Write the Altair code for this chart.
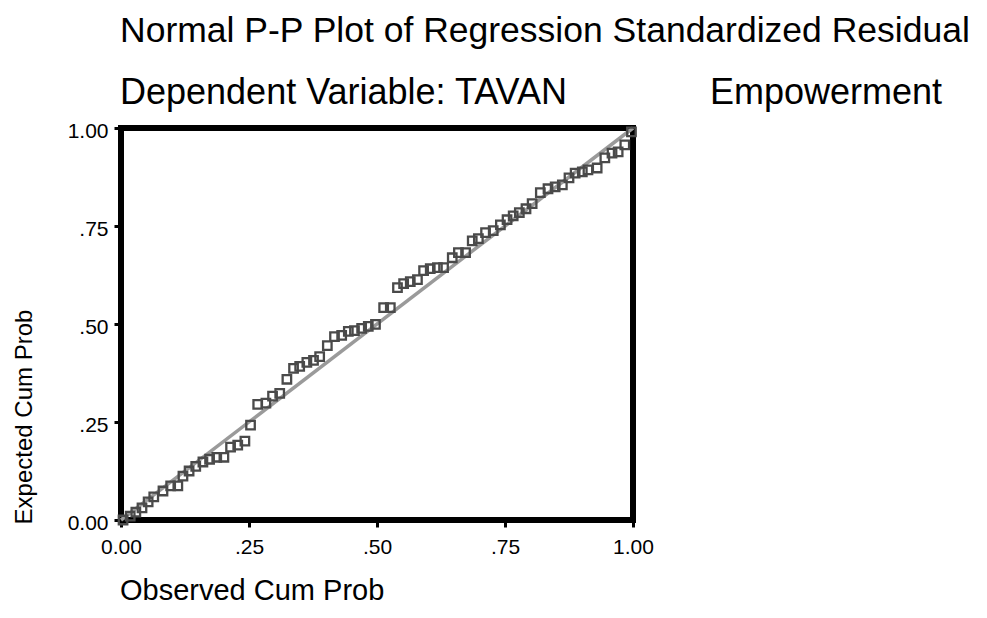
import altair as alt
import pandas as pd

# Observed cumulative probability (x) and expected cumulative probability (y)
observed = [0.004, 0.018, 0.029, 0.041, 0.053, 0.064, 0.082, 0.097, 0.111, 0.121,
            0.133, 0.146, 0.160, 0.173, 0.187, 0.201, 0.214, 0.228, 0.242, 0.253,
            0.267, 0.283, 0.296, 0.310, 0.324, 0.337, 0.349, 0.363, 0.376, 0.388,
            0.403, 0.417, 0.431, 0.444, 0.456, 0.470, 0.483, 0.497, 0.513, 0.526,
            0.540, 0.552, 0.565, 0.579, 0.591, 0.604, 0.618, 0.630, 0.647, 0.659,
            0.673, 0.686, 0.698, 0.712, 0.727, 0.741, 0.754, 0.766, 0.778, 0.791,
            0.803, 0.819, 0.834, 0.848, 0.862, 0.875, 0.887, 0.901, 0.912, 0.930,
            0.945, 0.959, 0.971, 0.984, 0.997]
expected = [0.000, 0.010, 0.020, 0.031, 0.046, 0.059, 0.074, 0.087, 0.087, 0.112,
            0.125, 0.137, 0.148, 0.155, 0.160, 0.160, 0.186, 0.191, 0.201, 0.242,
            0.295, 0.298, 0.316, 0.323, 0.359, 0.387, 0.392, 0.402, 0.407, 0.417,
            0.445, 0.468, 0.471, 0.481, 0.483, 0.489, 0.494, 0.499, 0.542, 0.542,
            0.593, 0.603, 0.608, 0.613, 0.636, 0.641, 0.644, 0.644, 0.669, 0.682,
            0.682, 0.712, 0.718, 0.733, 0.738, 0.753, 0.766, 0.776, 0.784, 0.794,
            0.807, 0.835, 0.845, 0.850, 0.855, 0.873, 0.885, 0.888, 0.893, 0.898,
            0.924, 0.936, 0.939, 0.957, 0.990]

ref_x = [0.0, 1.0]
ref_y = [0.0, 1.0]
tick_values = [0.0, 0.25, 0.5, 0.75, 1.0]

title_text = "Normal P-P Plot of Regression Standardized Residual"
subtitle_text = "Dependent Variable: TAVAN"
extra_text = "Empowerment"
x_title = "Observed Cum Prob"
y_title = "Expected Cum Prob"

FONT = "Liberation Sans"
W, H = 512, 392

pts = pd.DataFrame({"obs": observed, "exp": expected})
ref = pd.DataFrame({"obs": ref_x, "exp": ref_y})

label_expr = ("datum.value == 0 ? '0.00' : datum.value == 1 ? '1.00' : "
              "replace(format(datum.value, '.2f'), '0.', '.')")

xscale = alt.Scale(domain=[0, 1], nice=False, zero=False)
yscale = alt.Scale(domain=[0, 1], nice=False, zero=False)

xaxis = alt.Axis(values=tick_values, labelExpr=label_expr, title=None, grid=False,
                 domain=False, ticks=True, tickSize=7, tickWidth=3, tickColor="black",
                 labelFont=FONT, labelFontSize=21, labelColor="black", labelPadding=9,
                 labelFlush=False)
yaxis = alt.Axis(values=tick_values, labelExpr=label_expr, title=None, grid=False,
                 domain=False, ticks=True, tickSize=7, tickWidth=3, tickColor="black",
                 labelFont=FONT, labelFontSize=21, labelColor="black", labelPadding=6,
                 labelBaseline="middle", labelOffset=3, labelFlush=False)

line = alt.Chart(ref).mark_line(color="#9a9a9a", strokeWidth=3.5).encode(
    x=alt.X("obs:Q", scale=xscale, axis=xaxis),
    y=alt.Y("exp:Q", scale=yscale, axis=yaxis),
)

points = alt.Chart(pts).mark_point(shape="square", filled=False, color="#4a4a4a",
                                   strokeWidth=2.3, size=72, opacity=1).encode(
    x=alt.X("obs:Q", scale=xscale),
    y=alt.Y("exp:Q", scale=yscale),
)

one = pd.DataFrame({"a": [0]})


def label(text, x, y, size, angle=0, align="left", baseline="alphabetic"):
    kw = dict(text=text, font=FONT, fontSize=size, color="black", align=align,
              baseline=baseline)
    if angle:
        kw["angle"] = angle
    return alt.Chart(one).mark_text(**kw).encode(x=alt.value(x), y=alt.value(y))


texts = [
    label(title_text, -1, -86, 35.5),
    label(subtitle_text, -1, -24, 36),
    label(extra_text, 589, -24, 36),
    label(x_title, -1, 472, 29),
    label(y_title, -96, 289, 24, angle=270, align="center", baseline="middle"),
]

chart = alt.layer(line, points, *texts).properties(
    width=W, height=H,
    background="white",
    padding={"left": 113, "top": 120, "right": 346, "bottom": 90},
    autosize=alt.AutoSizeParams(type="none"),
).configure_view(stroke="black", strokeWidth=6)

chart.save("out.html", embed_options={"renderer": "svg", "actions": False})
